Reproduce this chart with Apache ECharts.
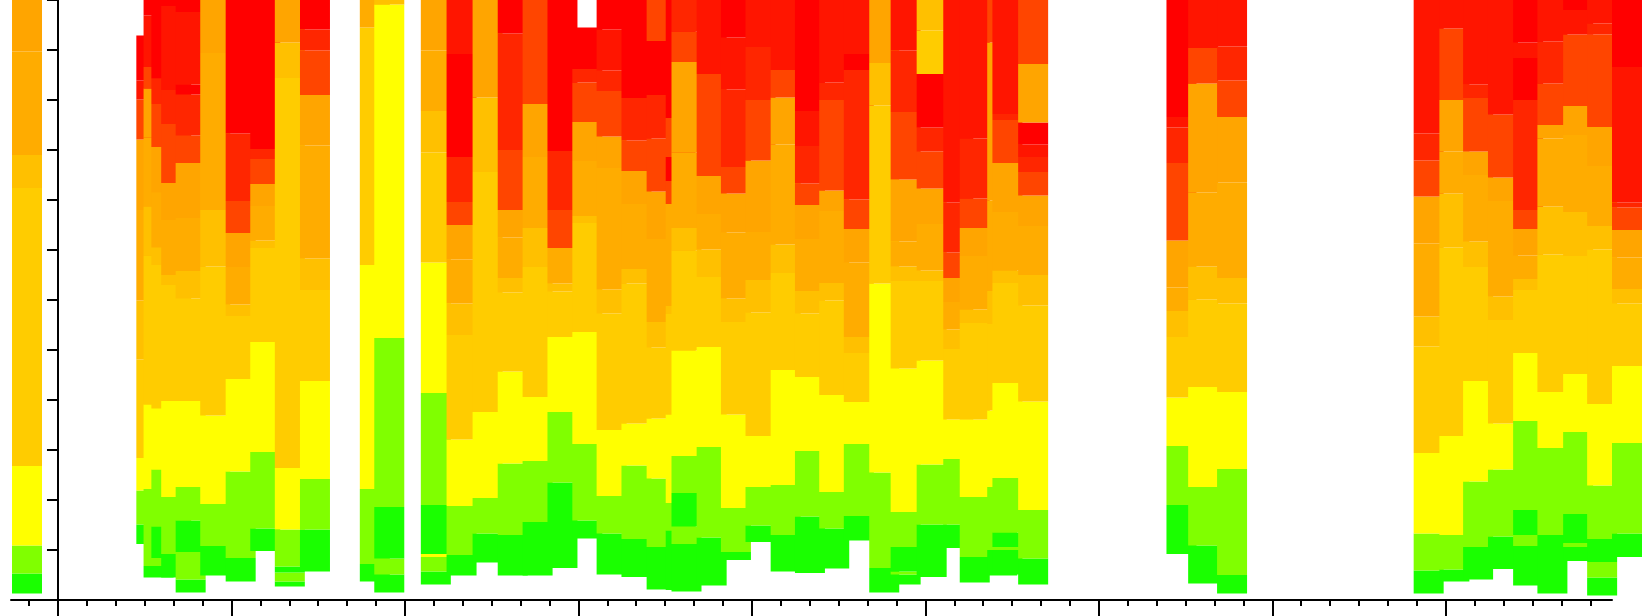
<!DOCTYPE html>
<html>
<head>
<meta charset="utf-8">
<script src="https://cdn.jsdelivr.net/npm/echarts@6/dist/echarts.min.js"></script>
<style>
    html, body { margin: 0; padding: 0; background: #fff; }
    #chart { width: 1642px; height: 616px; }
</style>
</head>
<body>
<div id="chart"></div>
<script>
// colour of each band level, 0 = best (green) ... 10 = worst (red)
var levelColors = ['#1aff00', '#80ff00', '#ffff00', '#ffcc00', '#ffc000', '#ffac00',
    '#ffa500', '#ff4500', '#ff2600', '#ff1500', '#ff0000'];

// left edge of every column (hours)
var barStart = [-1.59, 2.71, 2.96, 3.23, 3.57, 4.07, 4.92, 5.80, 6.65, 7.50, 8.37,
    10.44, 10.94, 12.55, 13.44, 14.34, 15.21, 16.07, 16.93, 17.79, 18.63, 19.49,
    20.36, 21.02, 21.22, 22.09, 22.93, 23.78, 24.65, 25.49, 26.33, 27.18, 28.06,
    28.80, 29.70, 30.62, 31.19, 32.14, 32.32, 33.21, 38.34, 39.09, 40.09, 46.89,
    47.78, 48.60, 49.46, 50.33, 51.17, 52.06, 52.89, 53.75];
var barSpan = 1.0375;

// band edges of every column, bottom to top
var bandEdges = [
    [1.3, 5.3, 10.9, 26.8, 82.4, 89, 109.7, 120],
    [11.2, 15.1, 21.9, 28.4, 48.1, 59.9, 78, 92.1, 100.1, 103.9, 112.9],
    [4.5, 6.8, 22.2, 39.1, 68.9, 78.7, 92.5, 102.3, 106.6, 116.9, 120],
    [8.4, 14.7, 26.1, 38.3, 67, 70.5, 81.5, 90.6, 99.2, 104.3, 120],
    [4.5, 9.2, 20.6, 39.8, 63, 65, 76, 83.4, 95.2, 102, 118.8, 120],
    [1.5, 4.1, 9.6, 15.9, 22.6, 39.8, 60.3, 65.8, 76.4, 87.4, 92.9, 101.1, 103.1, 117.6, 120],
    [4.9, 10.8, 19.2, 36.9, 66.7, 78, 109.4, 120],
    [3.7, 8.4, 25.7, 44.2, 56.8, 59.1, 66.6, 73.4, 79.8, 93.3, 120],
    [9.8, 14.3, 29.6, 51.6, 70.4, 71.9, 78.8, 83.2, 88.2, 90.2, 120],
    [2.7, 3.7, 5.5, 6.7, 14.1, 26.4, 104.4, 111.5, 120],
    [5.7, 14.1, 24.2, 43.8, 62, 68.3, 90.9, 101, 109.9, 114.1, 120],
    [3.7, 7.2, 22.2, 67, 114.5, 120],
    [1.5, 5.1, 8.3, 18.6, 52.4, 119.1, 120],
    [3.1, 5.7, 8.6, 9.2, 19, 41.4, 67.5, 89.5, 97.8, 109.9, 120],
    [4.9, 9, 18.8, 32.1, 53, 59.3, 68.1, 75, 79.6, 88.6, 109.2, 120],
    [7.5, 13.3, 20.4, 37.6, 85.6, 100.5, 120],
    [4.9, 13, 27.3, 45.7, 61.5, 64.4, 72.5, 78, 90, 113.3, 120],
    [4.9, 15.6, 27.8, 40.6, 66.6, 74.4, 88.6, 99.2, 120],
    [6.4, 12.2, 23.5, 37.6, 52.6, 61.7, 63.3, 70.4, 78, 89.8, 120],
    [12.3, 15.9, 31.2, 53.6, 75.4, 76.8, 87.8, 95.6, 103.5, 106.2, 114.5],
    [5.1, 13.3, 20.8, 34, 57.3, 62.1, 86.4, 92.7, 101.8, 105.9, 114.1, 120],
    [4.6, 12.2, 26.9, 35.3, 63.3, 66.2, 79.2, 85.8, 91.9, 100.4, 120],
    [2.1, 10.6, 24.3, 36.3, 50.5, 55.6, 72.2, 81.7, 92.3, 101, 111.8, 120],
    [2, 13.9, 19.4, 37.1, 57.2, 58.8, 79.2, 83.8, 88.6, 96.4, 120],
    [1.7, 11.2, 14.7, 21.4, 28.8, 49.9, 69.9, 74.4, 89.5, 107.6, 113.7, 120],
    [2.9, 5.8, 12.5, 30.6, 50.6, 64.6, 70.1, 77.2, 84.8, 105.2, 120],
    [8, 9.6, 18.4, 37.1, 55.6, 60.3, 73.5, 81.3, 86.6, 102.1, 112.5, 120],
    [11.6, 14.9, 22.6, 32.8, 57.5, 64, 73.6, 87.9, 100, 110.6, 120],
    [5.7, 13, 23, 46, 65.4, 71.1, 91.1, 100.5, 106, 120],
    [5.4, 16.7, 29.8, 44.6, 57.3, 61.8, 72.2, 79, 83.3, 90.8, 97.8, 120],
    [6.3, 14.3, 21.6, 41, 59.9, 63.4, 77.8, 81.9, 100, 103.5, 120],
    [11.9, 16.8, 31.2, 39.6, 49.4, 52.6, 67.5, 74.2, 80.1, 106, 109.2, 120],
    [1.5, 6.4, 25.5, 63.3, 98.9, 107.4, 120],
    [3.1, 5.1, 5.7, 10.6, 17.6, 46.3, 63.8, 66.7, 71.7, 84.1, 97.6, 109.9, 120],
    [4.6, 15.1, 27.1, 47.9, 63.8, 65.9, 75.2, 82.3, 89.7, 94.5, 105.2, 113.9, 120],
    [10.4, 15.1, 28.2, 36.1, 50.2, 54.1, 59.6, 64.4, 69.5, 79.5, 120],
    [3.5, 8.6, 20.6, 36.1, 55.4, 58.1, 68.8, 74.4, 80.3, 92.3, 120],
    [4.9, 10, 22.6, 37.9, 55.2, 61.8, 79.9, 111.5, 120],
    [5.1, 10, 10.6, 13.5, 24.4, 43.4, 63.4, 65.9, 77.6, 87.4, 96, 97.2, 120],
    [3.1, 8.3, 18, 39.7, 58.9, 65, 74.8, 80.9, 85.6, 88.6, 91.1, 95.5, 107.2, 120],
    [9.2, 19, 30.8, 40.5, 52.6, 57.8, 62.5, 71.9, 87.4, 94.5, 96.6, 120],
    [3.3, 10.9, 22.6, 42.6, 60.1, 66.7, 81.5, 103.3, 110.4, 120],
    [1.3, 5, 26.2, 41.6, 59.3, 64.4, 83.5, 96.6, 103.9, 110.7, 120],
    [1.3, 5.9, 13.3, 29.4, 50.7, 56.7, 71.3, 80.7, 87.9, 93.3, 120],
    [3.7, 6.1, 13, 32.8, 70.5, 81.3, 89.7, 100, 114.3, 120],
    [4.1, 10.6, 23.7, 43.8, 66.6, 71.7, 85, 89.7, 100.4, 103.1, 120],
    [6.2, 12.7, 26.1, 35.3, 56, 60.7, 79.8, 84.5, 97.1, 120],
    [2.9, 10.8, 13, 18, 35.8, 49.4, 62, 64.2, 68.9, 74.2, 78, 100, 108.4, 111.5, 120],
    [1.3, 13, 30.4, 41.6, 69.1, 78.7, 92.3, 95, 103.3, 111.7, 120],
    [7.8, 10.6, 11.4, 17.2, 33.6, 45.2, 68.8, 77.6, 93, 98.8, 113.1, 118, 120],
    [0.9, 4.5, 7.6, 12.2, 22.9, 39.2, 70.1, 74.8, 86.8, 94.6, 113.1, 115.3, 120],
    [8.6, 13.3, 31.4, 46.8, 59.3, 62.2, 68.5, 74, 78.5, 79.5, 106.6, 120]
];

// level of each band, bottom to top
var bandLevels = [
    [0, 1, 2, 3, 4, 5, 6],
    [0, 1, 2, 3, 4, 5, 6, 7, 9, 10],
    [0, 1, 2, 3, 4, 5, 6, 7, 9, 10],
    [0, 1, 2, 3, 4, 5, 6, 7, 8, 10],
    [0, 1, 2, 3, 4, 5, 6, 7, 8, 9, 10],
    [0, 1, 0, 1, 2, 3, 4, 5, 6, 7, 8, 10, 9, 10],
    [0, 1, 2, 3, 4, 5, 6],
    [0, 1, 2, 3, 4, 5, 6, 7, 8, 10],
    [0, 1, 2, 3, 4, 5, 6, 7, 8, 10],
    [0, 1, 0, 1, 2, 3, 4, 6],
    [0, 1, 2, 3, 4, 5, 6, 7, 8, 10],
    [0, 1, 2, 3, 5],
    [0, 1, 0, 1, 2, 4],
    [0, 1, 2, 0, 1, 2, 3, 4, 5, 6],
    [0, 1, 2, 3, 4, 5, 6, 7, 8, 10, 9],
    [0, 1, 2, 3, 4, 6],
    [0, 1, 2, 3, 4, 5, 6, 7, 8, 10],
    [0, 1, 2, 3, 4, 5, 6, 7],
    [0, 0, 1, 2, 3, 4, 5, 7, 8, 10],
    [0, 1, 2, 3, 4, 5, 6, 7, 8, 10],
    [0, 1, 2, 3, 4, 5, 6, 7, 8, 9, 10],
    [0, 1, 2, 3, 4, 5, 6, 7, 8, 10],
    [0, 1, 2, 3, 4, 5, 6, 7, 8, 10, 7],
    [0, 1, 2, 3, 4, 5, 7, 10, 7, 10],
    [0, 1, 0, 1, 2, 3, 4, 5, 6, 7, 8],
    [0, 0, 1, 2, 3, 4, 5, 6, 7, 9],
    [0, 1, 2, 3, 4, 5, 6, 7, 8, 9, 10],
    [0, 1, 2, 3, 4, 5, 6, 7, 8, 9],
    [0, 1, 2, 3, 4, 5, 6, 7, 9],
    [0, 1, 2, 3, 4, 5, 6, 7, 8, 9, 10],
    [0, 1, 2, 3, 4, 5, 6, 7, 8, 9],
    [0, 1, 2, 3, 4, 5, 6, 7, 8, 10, 9],
    [0, 1, 2, 3, 4, 6],
    [0, 1, 0, 1, 2, 3, 4, 5, 6, 7, 8, 9],
    [0, 1, 2, 3, 4, 5, 6, 7, 8, 10, 3, 4],
    [0, 1, 2, 3, 4, 5, 6, 7, 8, 9],
    [0, 1, 2, 3, 4, 5, 6, 7, 8, 9],
    [0, 1, 2, 3, 4, 5, 6, 7],
    [0, 1, 0, 1, 2, 3, 4, 5, 6, 7, 8, 9],
    [0, 1, 2, 3, 4, 5, 6, 7, 8, 9, 10, 6, 7],
    [0, 1, 2, 3, 4, 5, 6, 7, 8, 9, 10],
    [0, 1, 2, 3, 4, 5, 6, 7, 9],
    [0, 1, 2, 3, 4, 5, 6, 7, 8, 9],
    [0, 1, 2, 3, 4, 5, 6, 7, 8, 9],
    [0, 1, 2, 3, 4, 5, 6, 7, 9],
    [0, 1, 2, 3, 4, 5, 6, 7, 8, 9],
    [0, 1, 2, 3, 4, 5, 6, 7, 9],
    [0, 1, 0, 1, 2, 3, 4, 5, 6, 7, 8, 10, 9, 10],
    [0, 1, 2, 3, 4, 5, 6, 7, 8, 9],
    [0, 1, 0, 1, 2, 3, 4, 5, 6, 7, 9, 10],
    [0, 1, 0, 1, 2, 3, 4, 5, 6, 7, 8, 9],
    [0, 1, 2, 3, 4, 5, 6, 7, 8, 9, 10]
];

var xMin = -1.625, xMax = 53.75;
var majorTicks = [0, 6, 12, 18, 24, 30, 36, 42, 48];
var minorTicks = [];
for (var h = -1; h <= 53; h++) {
    if (majorTicks.indexOf(h) < 0) minorTicks.push(h);
}

var data = barStart.map(function (x, i) {
    var e = bandEdges[i];
    return [x, e[0], e[e.length - 1]];
});

function renderColumn(params, api) {
    var i = params.dataIndex;
    var x0 = api.value(0);
    var edges = bandEdges[i], levels = bandLevels[i];
    var children = [];
    for (var k = 0; k < levels.length; k++) {
        var p0 = api.coord([x0, edges[k]]);
        var p1 = api.coord([x0 + barSpan, edges[k + 1]]);
        children.push({
            type: 'rect',
            shape: {x: p0[0], y: p1[1], width: p1[0] - p0[0], height: p0[1] - p1[1]},
            style: {fill: levelColors[levels[k]]}
        });
    }
    return {type: 'group', children: children};
}

var chart = echarts.init(document.getElementById('chart'));
chart.setOption({
    backgroundColor: '#fff',
    animation: false,
    grid: {left: 11, right: 30, top: 0, bottom: 16, containLabel: false},
    xAxis: [{
        type: 'value', min: xMin, max: xMax, position: 'bottom',
        axisLine: {lineStyle: {color: '#000', width: 2}},
        axisTick: {customValues: majorTicks, length: 16, lineStyle: {color: '#000', width: 2}},
        axisLabel: {show: false},
        splitLine: {show: false}
    }, {
        type: 'value', min: xMin, max: xMax, position: 'bottom', offset: 0,
        axisLine: {show: false},
        axisTick: {customValues: minorTicks, length: 6, lineStyle: {color: '#000', width: 2}},
        axisLabel: {show: false},
        splitLine: {show: false}
    }],
    yAxis: {
        type: 'value', min: 0, max: 120, interval: 10,
        axisLine: {show: true, lineStyle: {color: '#000', width: 2}},
        axisTick: {show: true, length: 11, lineStyle: {color: '#000', width: 2}},
        axisLabel: {show: false},
        splitLine: {show: false}
    },
    series: [{
        type: 'custom',
        renderItem: renderColumn,
        clip: false,
        encode: {x: 0, y: [1, 2]},
        data: data
    }]
});
</script>
</body>
</html>
